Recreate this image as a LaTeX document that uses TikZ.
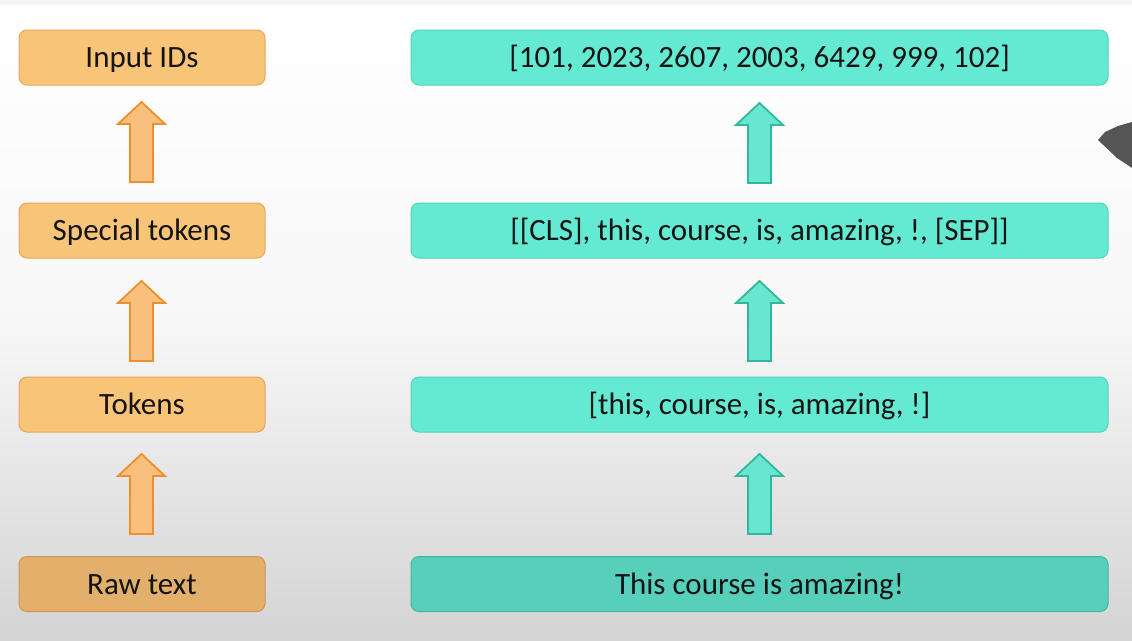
\documentclass[tikz,border=0pt]{standalone}
\usepackage{fontspec}
\setmainfont{Carlito}
\definecolor{orfill}{HTML}{F8C478}
\definecolor{ordraw}{HTML}{E8A65A}
\definecolor{rawfill}{HTML}{E2B06A}
\definecolor{orarrfill}{HTML}{F8C07C}
\definecolor{orarrdraw}{HTML}{EE8E2E}
\definecolor{tlfill}{HTML}{64EAD2}
\definecolor{tldraw}{HTML}{52D4BC}
\definecolor{tlraw}{HTML}{56D0BA}
\definecolor{tlarrfill}{HTML}{68E6D0}
\definecolor{tlarrdraw}{HTML}{30B89C}
\definecolor{darkshape}{HTML}{555555}
\tikzset{
  box/.style={rounded corners=8pt, minimum height=55pt, inner sep=0pt,
    text height=20pt, text depth=0pt,
    font=\fontsize{31}{36}\selectfont, text=black!92, line width=1pt},
  lbox/.style={box, minimum width=246pt, fill=orfill, draw=ordraw},
  rbox/.style={box, minimum width=697pt, fill=tlfill, draw=tldraw},
  larr/.style={fill=orarrfill, draw=orarrdraw, line width=1.8pt, line join=miter},
  rarr/.style={fill=tlarrfill, draw=tlarrdraw, line width=1.8pt, line join=miter},
}
% block up-arrow: #1 style, #2 = tip coordinate name
\newcommand\blockup[2]{%
  \draw[#1] (#2) -- ++(23.5,22) -- ++(-12,0) -- ++(0,58) -- ++(-23,0)
    -- ++(0,-58) -- ++(-12,0) -- cycle;}
\begin{document}
\begin{tikzpicture}[x=1pt,y=-1pt]
\useasboundingbox (0,0) rectangle (1132,640);
\shade[top color=white, bottom color=black!17, middle color=white!97!black, shading=axis] (0,0) rectangle (1132,640);
\fill[black!4] (0,0) rectangle (1132,5);
% dark shape at right edge
\fill[darkshape] (1098,140) -- (1105,132) -- (1118,126) -- (1132,122) -- (1132,168) -- (1117,158) -- cycle;

\node[lbox] (l1) at (142,57.5) {Input IDs};
\node[lbox] (l2) at (142,230.5) {Special tokens};
\node[lbox] (l3) at (142,404.5) {Tokens};
\node[lbox, fill=rawfill, draw=ordraw!90!black] (l4) at (142,584) {Raw text};

\node[rbox] (r1) at (759.5,57.5) {[101, 2023, 2607, 2003, 6429, 999, 102]};
\node[rbox] (r2) at (759.5,230.5) {[[CLS], this, course, is, amazing, !, [SEP]]};
\node[rbox] (r3) at (759.5,404.5) {[this, course, is, amazing, !]};
\node[rbox, fill=tlraw, draw=tldraw!85!black] (r4) at (759.5,584) {This course is amazing!};

\coordinate (la1) at (141.5,102);
\coordinate (la2) at (141.5,281);
\coordinate (la3) at (141.5,454);
\coordinate (ra1) at (759.5,103);
\coordinate (ra2) at (759.5,281);
\coordinate (ra3) at (759.5,454);
\blockup{larr}{la1}
\blockup{larr}{la2}
\blockup{larr}{la3}
\blockup{rarr}{ra1}
\blockup{rarr}{ra2}
\blockup{rarr}{ra3}
\end{tikzpicture}
\end{document}
